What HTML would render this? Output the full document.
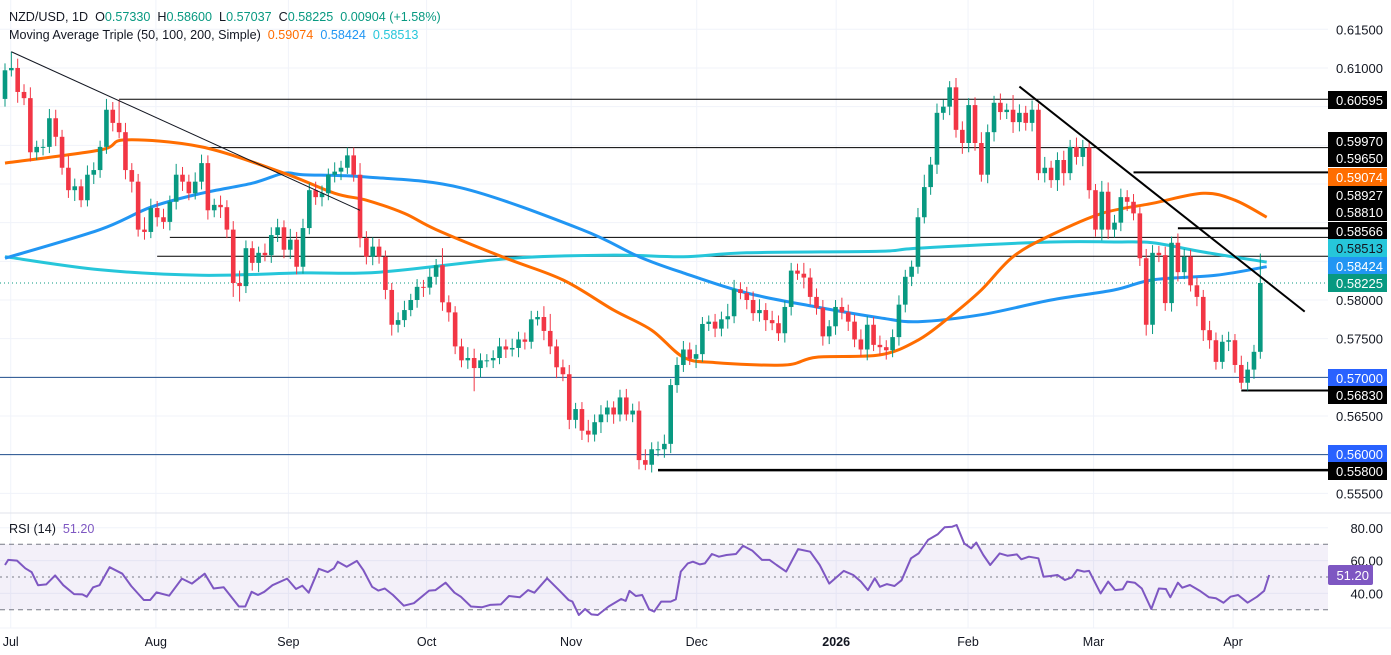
<!DOCTYPE html>
<html><head><meta charset="utf-8"><style>
html,body{margin:0;padding:0;background:#fff;}
svg{display:block;font-family:"Liberation Sans",sans-serif;}
.pre{white-space:pre;}
</style></head><body>
<svg id="chart" width="1391" height="655" viewBox="0 0 1391 655" xmlns="http://www.w3.org/2000/svg">
<rect x="0" y="0" width="1391" height="655" fill="#ffffff"/>
<g id="grid"></g>
<g id="levels"></g>
<g id="mas"></g>
<g id="candles"></g>
<g id="trend"></g>
<g id="rsi"></g>
<g id="axes"></g>
<g font-size="12.6">
<text class="pre" x="9" y="21" fill="#131722">NZD/USD, 1D  <tspan>O</tspan><tspan fill="#089981">0.57330</tspan>  <tspan>H</tspan><tspan fill="#089981">0.58600</tspan>  <tspan>L</tspan><tspan fill="#089981">0.57037</tspan>  <tspan>C</tspan><tspan fill="#089981">0.58225</tspan>  <tspan fill="#089981">0.00904 (+1.58%)</tspan></text>
<text class="pre" x="9" y="39" fill="#131722">Moving Average Triple (50, 100, 200, Simple)  <tspan fill="#ff6d00">0.59074</tspan>  <tspan fill="#2196f3">0.58424</tspan>  <tspan fill="#26c6da">0.58513</tspan></text>
<text class="pre" x="9" y="533" fill="#131722">RSI (14)  <tspan fill="#7e57c2">51.20</tspan></text>
</g>
</svg>
<script>
const closes=[6097,6100,6069,6061,5991,5998,5998,6035,6011,5971,5942,5947,5929,5962,5968,5998,6046,6029,6017,5968,5953,5891,5888,5919,5907,5901,5927,5962,5953,5938,5953,5977,5916,5923,5920,5891,5822,5818,5867,5848,5861,5858,5884,5894,5865,5878,5843,5893,5942,5933,5938,5962,5966,5971,5987,5962,5880,5856,5869,5856,5813,5768,5774,5787,5800,5817,5816,5830,5845,5797,5784,
5740,5722,5725,5712,5722,5722,5725,5740,5736,5738,5749,5746,5775,5778,5760,5740,5713,5704,5645,5659,5631,5626,5642,5652,5661,5652,5674,5652,5657,5593,5587,5607,5607,5614,5690,5716,5736,5724,5730,5769,5772,5763,5775,5779,5814,5809,5800,5783,5787,5774,5770,5757,5791,5838,5834,5829,5804,5790,5753,5766,5791,5784,5772,5749,5736,5768,5742,
5739,5735,5752,5794,5830,5843,5907,5946,5975,6042,6050,6075,6020,6003,6052,6003,5962,6017,6055,6043,6046,6030,6042,6029,6046,5964,5971,5955,5981,5964,5998,5985,5997,5942,5891,5940,5891,5900,5933,5927,5912,5854,5768,5861,5858,5796,5874,5836,5856,5819,5804,5761,5748,5720,5746,5748,5716,5693,5710,5733,5822];
const firstOpen=6060;
const wickUp=[9,21,12,10,14,8,10,12,11,9,16,10,9,12,10,8,14,10,30,12,9,10,16,12,9,11,8,14,10,9,12,11,10,8,12,9,11,16,10,9,8,12,10,11,9,14,10,12,9,11,10,8,12,9,10,10,15,9,12,10,8,9,10,12,8,10,9,11,8,22,9,8,10,14,12,9,8,10,11,9,12,10,9,11,8,14,22,9,10,12,8,9,14,10,12,9,8,10,11,9,12,14,9,10,12,8,10,11,9,12,9,8,10,10,16,12,9,8,11,14,9,12,10,8,10,9,14,12,11,10,8,9,12,10,9,13,11,10,12,9,10,12,9,8,12,16,10,12,9,8,12,11,9,10,14,10,9,12,8,19,11,9,12,8,14,9,10,12,9,12,10,9,8,14,12,10,11,9,10,8,12,10,9,11,8,12,10,9,10,9,12,10,9,11,8,12,10,9,38];
const wickDn=[10,8,14,9,12,10,11,8,12,9,10,14,9,8,12,10,9,11,8,12,14,9,10,8,12,9,11,10,12,9,8,10,12,9,14,11,18,20,9,10,12,8,10,9,11,12,10,9,8,10,12,9,10,11,8,9,12,10,11,9,12,14,10,9,8,10,12,9,10,11,12,10,9,11,30,12,9,10,8,11,9,12,10,9,8,12,10,14,9,12,11,12,10,9,14,10,12,9,8,10,12,7,10,9,11,12,10,9,8,12,10,9,11,10,12,9,8,12,10,11,14,9,10,12,11,8,14,10,9,12,10,11,9,12,10,9,14,8,10,12,9,11,10,12,9,8,10,12,9,11,10,14,12,10,9,11,12,10,9,14,12,10,11,9,12,10,14,16,9,10,12,11,9,14,12,10,11,12,9,10,14,12,9,10,11,12,9,8,12,14,11,10,9,12,10,8,10,12,9,27];
const maIdx50=[0,15,19,31,44,52,57,63,68,79,88,96,102,107,112,123,128,138,144,149,154,159,165,173,181,189,194,199];
const ma50=[5977,5994,6007,5998,5964,5938,5929,5912,5891,5854,5826,5787,5761,5726,5719,5716,5726,5729,5748,5778,5813,5856,5884,5912,5925,5938,5929,5907];
const maIdx100=[0,15,23,31,39,44,47,57,72,91,100,107,117,128,138,144,154,165,175,181,191,199];
const ma100=[5854,5891,5920,5938,5951,5964,5962,5959,5945,5891,5856,5835,5809,5791,5777,5772,5781,5800,5813,5826,5832,5843];
const maIdx200=[0,15,31,47,59,80,96,107,117,138,144,165,175,181,189,199];
const ma200=[5856,5839,5832,5835,5836,5854,5858,5856,5861,5863,5867,5875,5875,5874,5862,5849];
const rsiIdx=[0,0.5,1.9,3.2,4.2,5.2,6.5,7.9,9.2,10.9,12.2,12.9,13.9,14.9,16.5,18.5,19.9,21.9,22.9,23.9,25.9,27.9,29.5,31.5,32.9,34.5,36.9,37.9,38.9,39.9,40.9,42.2,44.5,45.9,46.9,47.9,49.5,50.9,51.9,52.5,53.9,55.5,56.5,57.9,58.9,59.9,61.2,62.9,64.5,66.9,67.9,69.5,70.9,71.9,73.5,75.2,76.5,78.2,79.5,81.2,82.5,83.5,85.5,87.5,88.9,89.5,90.5,91.5,92.5,93.5,95.2,97.2,97.9,98.5,99.5,100.5,101.6,102.4,103.5,105,105.8,106.6,107.7,108.5,109.6,110.4,111.5,112.6,113.8,115.3,116.4,117.9,119.4,120.6,121.7,123.2,125.1,127,128.5,130,132.3,133.8,135,136.1,137.2,138,139.1,140.3,141.4,142.9,144.1,145.6,147.1,148.2,149.4,150.1,151.3,152.4,153.2,154.3,155.4,156.9,158.1,159.6,160.3,161.5,163,163.8,164.9,166,167.2,168.3,169.1,170.2,171,172.8,174,175.1,176.3,177,178.2,179.3,180.8,182,183.1,183.8,185,185.7,186.9,188.4,189.9,191,192.2,193.3,194.5,196,197.5,198.6,199.4];
const rsiVal=[57.3,60.4,60,55.3,53,45,45.5,51,45,39.6,39.4,38,43.7,45,56,52,44.5,36,36,40.6,38.6,49,46,52,43,43.7,32,32,41,39,41,45,49,42.7,44.7,40.4,55,53,55.3,59.3,56.3,59.8,54.3,44,41.7,43,39,32.5,34,41.7,42,46.5,40.4,38,32,31.5,33,33.3,38.4,37.6,42,40.4,49.2,41.5,36,35,26.8,30.5,27.2,26.8,32,36.6,35.4,41.5,38.4,39,30.3,28.9,35,35,36.4,53.3,58.3,59.3,57.7,58.3,64,62.4,63.4,64,69,66,60.4,60.4,57.3,53.3,67,65.4,57.3,46,53.7,51.2,47.2,42,49.2,44,45.7,44.5,48,61.4,64.4,72.6,76,80.3,80.7,81.7,70.5,67.5,71,63.4,57.3,64.4,63,63.8,60.8,62.4,61.4,50.2,50.6,51.2,48.2,49.8,54.3,53.3,53.7,40,47.2,42,42.5,47.2,46.5,43,30.5,43,42.7,37.6,46.5,43.5,45.1,41.7,37.6,37,34.3,38,39,34.3,38,41.5,51.2];
const priceTicks=[6150,6100,6050,6000,5950,5900,5850,5800,5750,5700,5650,5600,5550];
const plainPriceLabels=["0.61500","0.61000","0.57500","0.56500","0.55500"];
const plainPriceVals=[6150,6100,5750,5650,5550];
const monthLabels=["Jul","Aug","Sep","Oct","Nov","Dec","2026","Feb","Mar","Apr"];
const monthIdx=[0.9,23.8,44.7,66.5,89.3,109.1,131.1,151.9,171.7,193.7];
const levelVals=[6059.5,5997,5965,5892.7,5881,5856.6,5700,5683,5600,5580];
const levelStartIdx=[18,32,178,185,26,24,-1,195,-1,103];
const levelWidth=[1,1,2,2,1,1,1,2,1,2.5];
const levelColor=["#000","#000","#000","#000","#000","#000","#1f4e8c","#000","#1f4e8c","#000"];
const boxLabels=["0.60595","0.59970","0.59650","0.59074","0.58927","0.58810","0.58566","0.58513","0.58424","0.58225","0.57000","0.56830","0.56000","0.55800"];
const boxY=[100,141,158,177,195,212,231,248,266,283,378,395,454,471];
const boxFill=["#000","#000","#000","#ff6d00","#000","#000","#000","#26c6da","#2196f3","#089981","#2962ff","#000","#2962ff","#000"];
const boxText=["#fff","#fff","#fff","#fff","#fff","#fff","#fff","#131722","#fff","#fff","#fff","#fff","#fff","#fff"];
const trendA=[[1,6121],[56,5916]];
const trendB=[[160,6076],[205,5785]];
const rsiTicks=[80,60,40];

const NS="http://www.w3.org/2000/svg";
const PR=1328;
const xOf=i=>5+i*6.34;
const yOf=p=>300-(p-5800)*0.7734;
const ry=v=>577-(v-50)*1.64;
function mk(tag,attrs,parent){const e=document.createElementNS(NS,tag);for(const k in attrs)e.setAttribute(k,attrs[k]);parent.appendChild(e);return e;}
const G=id=>document.getElementById(id);
function smooth(pts){let d='M'+pts[0][0].toFixed(1)+','+pts[0][1].toFixed(1);
for(let k=0;k<pts.length-1;k++){const p0=pts[Math.max(0,k-1)],p1=pts[k],p2=pts[k+1],p3=pts[Math.min(pts.length-1,k+2)];
const c1=[p1[0]+(p2[0]-p0[0])/6,p1[1]+(p2[1]-p0[1])/6],c2=[p2[0]-(p3[0]-p1[0])/6,p2[1]-(p3[1]-p1[1])/6];
d+='C'+c1[0].toFixed(1)+','+c1[1].toFixed(1)+' '+c2[0].toFixed(1)+','+c2[1].toFixed(1)+' '+p2[0].toFixed(1)+','+p2[1].toFixed(1);}
return d;}

const grid=G('grid');
priceTicks.forEach(p=>{const l=mk('line',{x1:0,x2:PR,y1:yOf(p),y2:yOf(p),stroke:'#f0f3fa','stroke-width':1},grid);

});
rsiTicks.forEach(v=>{const l=mk('line',{x1:0,x2:PR,y1:ry(v),y2:ry(v),stroke:'#f0f3fa'},grid);

});
monthIdx.forEach(i=>{const l=mk('line',{x1:xOf(i),x2:xOf(i),y1:0,y2:628,stroke:'#f0f3fa'},grid);

});

const lv=G('levels');
levelVals.forEach((p,k)=>{const x1=levelStartIdx[k]<0?0:xOf(levelStartIdx[k]);
const l=mk('line',{x1:x1,x2:PR,y1:yOf(p),y2:yOf(p),stroke:levelColor[k],'stroke-width':levelWidth[k]},lv);

});
const cur=mk('line',{x1:0,x2:PR,y1:yOf(closes[closes.length-1]),y2:yOf(closes[closes.length-1]),stroke:'#089981','stroke-dasharray':'1 3'},lv);



const mas=G('mas');
function maPath(idx,vals,color,name){const pts=idx.map((i,k)=>[xOf(i),yOf(vals[k])]);
const p=mk('path',{d:smooth(pts),fill:'none',stroke:color,'stroke-width':3,'stroke-linejoin':'round'},mas);

}
maPath(maIdx200,ma200,'#26c6da','ma-200-line');
maPath(maIdx100,ma100,'#2196f3','ma-100-line');
maPath(maIdx50,ma50,'#ff6d00','ma-50-line');

const cg=G('candles');
closes.forEach((c,i)=>{const o=i?closes[i-1]:firstOpen;const up=c>=o;const col=up?'#089981':'#f23645';
const hi=Math.max(o,c)+wickUp[i],lo=Math.min(o,c)-wickDn[i];const x=xOf(i);
const g=mk('g',{},cg);


mk('line',{x1:x,x2:x,y1:yOf(hi),y2:yOf(lo),stroke:col,'stroke-width':1},g);
const yt=yOf(Math.max(o,c)),yb=yOf(Math.min(o,c));
mk('rect',{x:x-2.3,y:yt,width:4.6,height:Math.max(1,yb-yt),fill:col},g);});

const tg=G('trend');
const t1=mk('line',{x1:xOf(trendA[0][0]),y1:yOf(trendA[0][1]),x2:xOf(trendA[1][0]),y2:yOf(trendA[1][1]),stroke:'#131722','stroke-width':1},tg);


const t2=mk('line',{x1:xOf(trendB[0][0]),y1:yOf(trendB[0][1]),x2:xOf(trendB[1][0]),y2:yOf(trendB[1][1]),stroke:'#000','stroke-width':2},tg);



const rg=G('rsi');
const sep=mk('line',{x1:0,x2:1391,y1:513,y2:513,stroke:'#e0e3eb'},rg);


const band=mk('rect',{x:0,y:ry(70),width:PR,height:ry(30)-ry(70),fill:'#7e57c2','fill-opacity':0.09},rg);


[70,30].forEach(v=>{const l=mk('line',{x1:0,x2:PR,y1:ry(v),y2:ry(v),stroke:'#787b86','stroke-dasharray':'5 4'},rg);

});
const mid=mk('line',{x1:0,x2:PR,y1:ry(50),y2:ry(50),stroke:'#787b86','stroke-dasharray':'2 4'},rg);


let rd='';rsiIdx.forEach((i,k)=>{rd+=(k?'L':'M')+xOf(i).toFixed(1)+','+ry(rsiVal[k]).toFixed(1);});
const rl=mk('path',{d:rd,fill:'none',stroke:'#7e57c2','stroke-width':2,'stroke-linejoin':'round'},rg);



const ax=G('axes');
const bot=mk('line',{x1:0,x2:1391,y1:628,y2:628,stroke:'#f0f3fa'},ax);


plainPriceVals.forEach((p,k)=>{const t=mk('text',{x:1383,y:yOf(p)+5,'text-anchor':'end','font-size':13,fill:'#131722'},ax);t.textContent=plainPriceLabels[k];

});
const t58=mk('text',{x:1383,y:yOf(5800)+5,'text-anchor':'end','font-size':13,fill:'#131722'},ax);t58.textContent='0.58000';


boxLabels.forEach((s,k)=>{const g=mk('g',{},ax);


mk('rect',{x:1328,y:boxY[k]-9,width:59,height:18,fill:boxFill[k]},g);
const t=mk('text',{x:1383,y:boxY[k]+5,'text-anchor':'end','font-size':13,fill:boxText[k]},g);t.textContent=s;});
rsiTicks.forEach(v=>{const t=mk('text',{x:1383,y:ry(v)+5,'text-anchor':'end','font-size':13,fill:'#131722'},ax);t.textContent=v.toFixed(2);

});
const rb=mk('g',{},ax);


mk('rect',{x:1328,y:ry(rsiVal[rsiVal.length-1])-10,width:45,height:20,fill:'#7e57c2',rx:2},rb);
const rbt=mk('text',{x:1369,y:ry(rsiVal[rsiVal.length-1])+5,'text-anchor':'end','font-size':13,fill:'#fff'},rb);rbt.textContent=rsiVal[rsiVal.length-1].toFixed(2);
monthLabels.forEach((m,k)=>{const t=mk('text',{x:xOf(monthIdx[k]),y:646,'text-anchor':'middle','font-size':12.5,fill:'#131722','font-weight':m==='2026'?'bold':'normal'},ax);t.textContent=m;

});
</script>
</body></html>
